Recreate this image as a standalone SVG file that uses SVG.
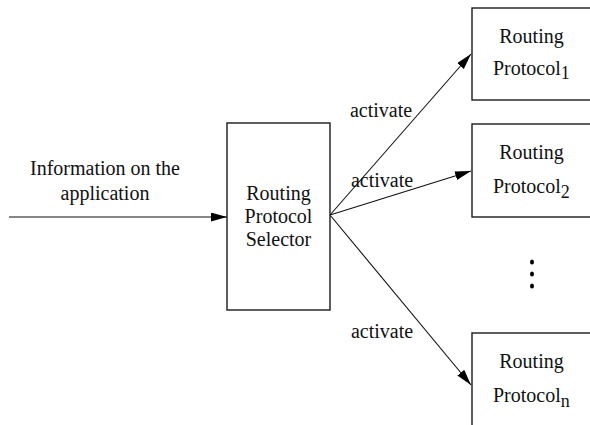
<svg xmlns="http://www.w3.org/2000/svg" width="590" height="425" viewBox="0 0 590 425">
  <style>
    .box { fill: #ffffff; stroke: #1a1a1a; stroke-width: 1.4; }
    .lbl { font-family: "Liberation Serif", "Times New Roman", serif; font-size: 20px; fill: #111111; }
    .mid { text-anchor: middle; }
    .sub { font-size: 18px; }
    .wire { fill: none; stroke: #111111; stroke-width: 1.1; marker-end: url(#head); }
  </style>
  <defs>
    <marker id="head" markerUnits="userSpaceOnUse" markerWidth="16" markerHeight="10" refX="16" refY="4.5" orient="auto">
      <path d="M0,0 L16,4.5 L0,9 Z" fill="#000000"/>
    </marker>
  </defs>
  <rect width="590" height="425" fill="#ffffff"/>

  <!-- connectors -->
  <g id="connectors">
    <line class="wire" x1="9" y1="217" x2="227" y2="217"/>
    <line class="wire" x1="330" y1="215" x2="471" y2="54"/>
    <line class="wire" x1="330" y1="215" x2="471" y2="171"/>
    <line class="wire" x1="330" y1="215" x2="471" y2="385"/>
    <text class="lbl mid" x="105" y="175">Information on the</text>
    <text class="lbl mid" x="105" y="200">application</text>
    <text class="lbl mid" x="381" y="117">activate</text>
    <text class="lbl mid" x="382" y="187">activate</text>
    <text class="lbl mid" x="382" y="338">activate</text>
  </g>

  <!-- selector -->
  <g id="selector">
    <rect class="box" x="227" y="123" width="103" height="187"/>
    <text class="lbl mid" x="278.5" y="200">Routing</text>
    <text class="lbl mid" x="278.5" y="223">Protocol</text>
    <text class="lbl mid" x="278.5" y="246">Selector</text>
  </g>

  <!-- protocol 1 -->
  <g id="protocol1">
    <rect class="box" x="472" y="8" width="130" height="92"/>
    <text class="lbl mid" x="531.5" y="43">Routing</text>
    <text class="lbl" x="493" y="75">Protocol<tspan class="sub" dy="4">1</tspan></text>
  </g>

  <!-- protocol 2 -->
  <g id="protocol2">
    <rect class="box" x="472" y="124" width="130" height="93"/>
    <text class="lbl mid" x="531.5" y="159">Routing</text>
    <text class="lbl" x="493" y="193">Protocol<tspan class="sub" dy="5">2</tspan></text>
  </g>

  <!-- ellipsis between the protocol boxes -->
  <g id="ellipsis" fill="#000000">
    <ellipse cx="532" cy="262" rx="2" ry="2.5"/>
    <ellipse cx="532" cy="274" rx="2" ry="2.5"/>
    <ellipse cx="532" cy="286" rx="2" ry="2.5"/>
  </g>

  <!-- protocol n -->
  <g id="protocolN">
    <rect class="box" x="472" y="333" width="130" height="100"/>
    <text class="lbl mid" x="531.5" y="368">Routing</text>
    <text class="lbl" x="493" y="402">Protocol<tspan class="sub" dy="5">n</tspan></text>
  </g>
</svg>
